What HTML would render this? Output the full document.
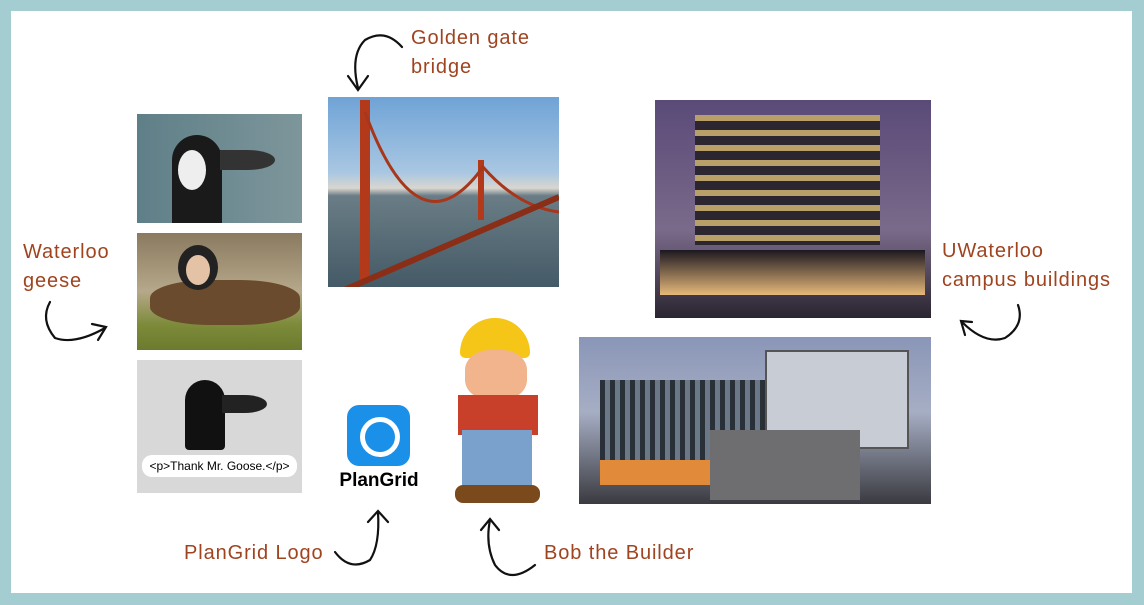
<!DOCTYPE html>
<html><head><meta charset="utf-8"><style>
html,body{margin:0;padding:0}
body{width:1144px;height:605px;background:#a4cdd1;position:relative;overflow:hidden;font-family:"Liberation Sans",sans-serif}
.in{position:absolute;left:11px;top:11px;width:1121px;height:582px;background:#fff}
.b{position:absolute}
.t{position:absolute;color:#a0431f;font-size:20px;line-height:29px;letter-spacing:0.9px}
</style></head><body>
<div class="in"></div>
<div class="b" style="left:137px;top:114px;width:165px;height:109px;background:linear-gradient(90deg,#5f7f88,#7d969b)"></div>
<div class="b" style="left:172px;top:135px;width:50px;height:88px;background:#1a1a1a;border-radius:30px 30px 0 0"></div>
<div class="b" style="left:178px;top:150px;width:28px;height:40px;background:#eee;border-radius:50%"></div>
<div class="b" style="left:220px;top:150px;width:55px;height:20px;background:#333;border-radius:0 50% 50% 0"></div>
<div class="b" style="left:137px;top:233px;width:165px;height:117px;background:linear-gradient(180deg,#8a7a60 0%,#b6a88a 50%,#7d8b3a 78%,#6b7a2e 100%)"></div>
<div class="b" style="left:150px;top:280px;width:150px;height:45px;background:#6b4b2e;border-radius:40%"></div>
<div class="b" style="left:178px;top:245px;width:40px;height:45px;background:#222;border-radius:50%"></div>
<div class="b" style="left:186px;top:255px;width:24px;height:30px;background:#e3c2a5;border-radius:50%"></div>
<div class="b" style="left:137px;top:360px;width:165px;height:133px;background:#d8d8d8"></div>
<div class="b" style="left:185px;top:380px;width:40px;height:70px;background:#111;border-radius:20px 20px 4px 4px"></div>
<div class="b" style="left:222px;top:395px;width:45px;height:18px;background:#222;border-radius:0 50% 50% 0"></div>
<div class="b" style="left:142px;top:455px;width:155px;height:22px;background:#fff;border-radius:10px;font-size:12px;line-height:22px;text-align:center">&lt;p&gt;Thank Mr. Goose.&lt;/p&gt;</div>
<div class="b" style="left:328px;top:97px;width:231px;height:190px;background:linear-gradient(180deg,#6fa3d6 0%,#a9c7e2 40%,#d9d6cf 48%,#6a7d86 52%,#445a66 100%)"></div>
<div class="b" style="left:360px;top:100px;width:10px;height:180px;background:#b3391b"></div>
<div class="b" style="left:478px;top:160px;width:6px;height:60px;background:#b3391b"></div>
<svg class="b" style="left:328px;top:97px" width="231" height="190"><path d="M37 15 Q90 160 155 70 Q190 110 231 115" stroke="#a8361a" stroke-width="3" fill="none"/><path d="M0 200 L231 100" stroke="#8a2e18" stroke-width="6"/></svg>
<div class="b" style="left:347px;top:405px;width:63px;height:61px;background:#1b90e8;border-radius:12px"></div>
<div class="b" style="left:360px;top:417px;width:30px;height:30px;border:5px solid #fff;border-radius:50%"></div>
<div class="b" style="left:336px;top:470px;width:86px;font-weight:bold;font-size:19px;text-align:center">PlanGrid</div>
<div class="b" style="left:460px;top:318px;width:70px;height:40px;background:#f5c518;border-radius:40px 40px 6px 6px"></div>
<div class="b" style="left:465px;top:350px;width:62px;height:50px;background:#f2b48c;border-radius:40%"></div>
<div class="b" style="left:458px;top:395px;width:80px;height:40px;background:#c8402a"></div>
<div class="b" style="left:462px;top:430px;width:70px;height:60px;background:#7aa0cc"></div>
<div class="b" style="left:455px;top:485px;width:85px;height:18px;background:#7a4a1c;border-radius:8px"></div>
<div class="b" style="left:655px;top:100px;width:276px;height:218px;background:linear-gradient(180deg,#5a4a78 0%,#7a6a8a 60%,#2a2530 100%)"></div>
<div class="b" style="left:695px;top:115px;width:185px;height:130px;background:repeating-linear-gradient(180deg,#b8a068 0 6px,#2c2630 6px 15px)"></div>
<div class="b" style="left:660px;top:250px;width:265px;height:45px;background:linear-gradient(180deg,#1c1820,#e6b87a)"></div>
<div class="b" style="left:579px;top:337px;width:352px;height:167px;background:linear-gradient(180deg,#8a96b8 0%,#a6aec4 45%,#3a3a40 100%)"></div>
<div class="b" style="left:600px;top:380px;width:170px;height:90px;background:repeating-linear-gradient(90deg,#2a3038 0 5px,#6a7888 5px 10px)"></div>
<div class="b" style="left:765px;top:350px;width:140px;height:95px;background:#c8ccd4;border:2px solid #555"></div>
<div class="b" style="left:710px;top:430px;width:150px;height:70px;background:#6e6e70"></div>
<div class="b" style="left:600px;top:460px;width:110px;height:25px;background:#e08a3a"></div>
<div class="t" style="left:411px;top:24px">Golden gate<br>bridge</div>
<div class="t" style="left:23px;top:238px">Waterloo<br>geese</div>
<div class="t" style="left:942px;top:237px">UWaterloo<br>campus buildings</div>
<div class="t" style="left:184px;top:539px">PlanGrid Logo</div>
<div class="t" style="left:544px;top:539px">Bob the Builder</div>
<svg class="b" style="left:0;top:0" width="1144" height="605" fill="none" stroke="#111" stroke-width="2.2" stroke-linecap="round">
<path d="M402 47 Q385 28 365 40 Q350 55 358 88"/><path d="M348 76 L358 90 L368 76"/>
<path d="M50 302 Q40 320 55 338 Q75 345 105 328"/><path d="M92 324 L106 327 L98 340"/>
<path d="M1018 305 Q1025 325 1005 338 Q985 345 962 322"/><path d="M972 322 L961 321 L965 335"/>
<path d="M335 552 Q350 572 370 560 Q380 545 378 512"/><path d="M368 522 L378 511 L388 522"/>
<path d="M535 565 Q510 585 495 565 Q485 545 490 520"/><path d="M481 530 L490 519 L499 530"/>
</svg>
</body></html>
